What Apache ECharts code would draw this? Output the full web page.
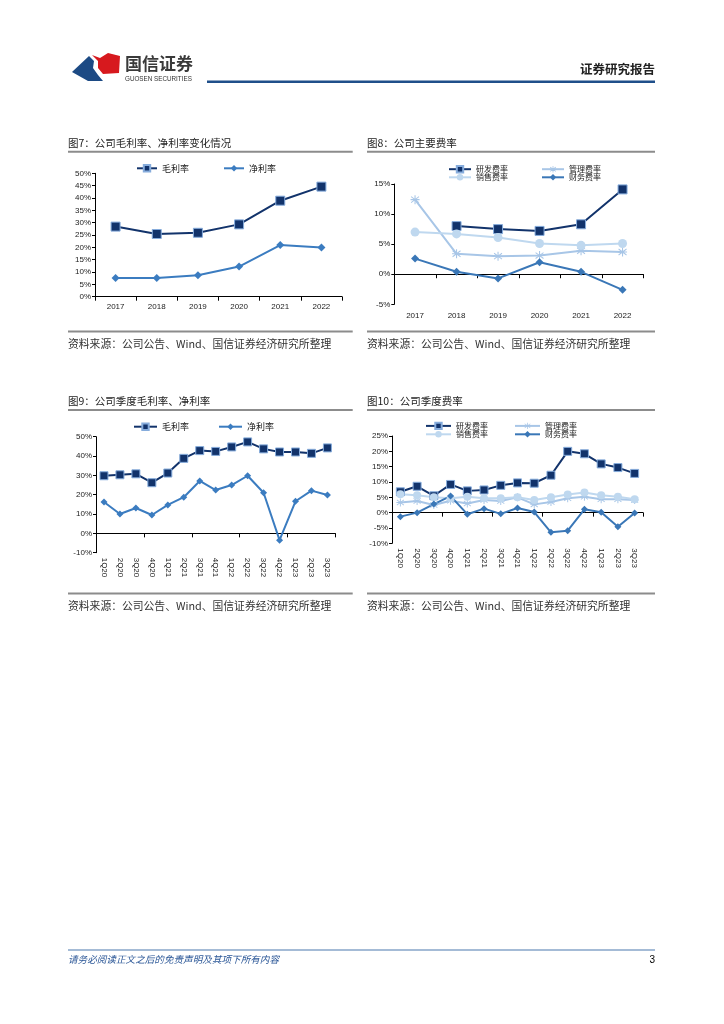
<!DOCTYPE html>
<html><head><meta charset="utf-8">
<script src="https://cdn.jsdelivr.net/npm/echarts@6/dist/echarts.min.js"></script>
<style>html,body{margin:0;padding:0;background:#fff}#c{width:724px;height:1024px}</style>
</head><body><div id="c"></div>
<script>
// ---------- data ----------
const years = ['2017','2018','2019','2020','2021','2022'];
const grossMargin = [28.4,25.4,25.9,29.3,38.9,44.6];
const netMargin   = [7.6,7.6,8.7,12.2,20.9,19.9];

const rdRate    = [null,8.0,7.5,7.2,8.3,14.1];
const adminRate = [12.4,3.4,3.0,3.1,3.9,3.7];
const salesRate = [7.0,6.7,6.1,5.1,4.8,5.1];
const finRate   = [2.6,0.4,-0.7,2.0,0.4,-2.6];

const quarters = ['1Q20','2Q20','3Q20','4Q20','1Q21','2Q21','3Q21','4Q21','1Q22','2Q22','3Q22','4Q22','1Q23','2Q23','3Q23'];
const qGross = [29.8,30.3,30.8,26.2,31.2,38.8,42.8,42.4,44.7,47.3,43.7,42.1,42.1,41.4,44.2];
const qNet   = [16.2,10.0,13.1,9.5,14.7,18.7,27.1,22.4,25.0,29.8,21.0,-3.5,16.6,22.1,19.8];

const qRd    = [6.8,8.6,5.5,9.2,7.1,7.4,8.9,9.7,9.6,12.2,20.0,19.2,15.9,14.7,12.8];
const qAdmin = [3.3,3.8,2.5,3.9,3.0,4.1,3.8,5.0,2.7,3.5,4.7,5.2,4.4,4.4,4.1];
const qSales = [6.0,5.7,5.0,4.7,5.2,4.7,4.7,5.0,4.1,5.0,5.9,6.6,5.7,5.2,4.4];
const qFin   = [-1.3,0.0,2.8,5.4,-0.5,1.3,-0.4,1.5,0.2,-6.4,-5.9,1.1,0.1,-4.6,-0.1];

const yTicks1 = {min:0, max:50, interval:5};
const yTicks2 = {min:-5, max:15, interval:5};
const yTicks3 = {min:-10, max:50, interval:10};
const yTicks4 = {min:-10, max:25, interval:5};

// ---------- styles ----------
const CJK = '"Noto Sans CJK SC", sans-serif';
const LAT = '"Liberation Sans", Arial, sans-serif';
const NAVY = '#12336b', MID = '#3b7cc0', LIGHT1 = '#a8c6e7', LIGHT2 = '#bfd8ef', FIN = '#3a77b7';
const STAR = 'path://M4.4,0H5.6V10H4.4Z M0.3,2.2L0.9,1.2L9.7,7.8L9.1,8.8Z M0.3,7.8L9.1,1.2L9.7,2.2L0.9,8.8Z M0,4.4H10V5.6H0Z';

const chart = echarts.init(document.getElementById('c'), null, {renderer:'canvas'});

function yAxis(grid, t){
  return {type:'value', gridIndex:grid, min:t.min, max:t.max, interval:t.interval,
    axisLine:{show:true, onZero:false, lineStyle:{color:'#000', width:1}},
    axisTick:{show:true, length:3, lineStyle:{color:'#000'}},
    splitLine:{show:false},
    axisLabel:{formatter:'{value}%', fontSize:8, fontFamily:LAT, color:'#222', margin:4}};
}
function labelX(grid, cats, rotate, margin){
  return {type:'category', gridIndex:grid, data:cats, position:'bottom', boundaryGap:true,
    axisLine:{show:false, onZero:false}, axisTick:{show:false},
    axisLabel:{fontSize:8, fontFamily:LAT, color:'#222', rotate:rotate, margin:margin, interval:0}};
}
function zeroX(grid, cats){
  return {type:'category', gridIndex:grid, data:cats, position:'top', boundaryGap:true,
    axisLine:{show:true, onZero:true, lineStyle:{color:'#000', width:1}},
    axisTick:{show:true, inside:true, length:4, lineStyle:{color:'#000'}},
    axisLabel:{show:false}};
}
function line(name, data, xi, yi, color, symbol, size, extra){
  return Object.assign({type:'line', name:name, data:data, xAxisIndex:xi, yAxisIndex:yi,
    symbol:symbol, symbolSize:size, showSymbol:true, connectNulls:false,
    lineStyle:{color:color, width:2}, itemStyle:{color:color}, animation:false, z:3}, extra||{});
}
function legend(names, left, top, iw, gap, fs){
  return {data:names, left:left, top:top, orient:'horizontal', padding:0, itemWidth:iw, itemHeight:8,
    itemGap:gap, selectedMode:false, textStyle:{fontSize:fs, fontFamily:CJK, color:'#222', padding:[0,0,0,0]}};
}
function txt(x, y, s, size, opt){
  return Object.assign({type:'text', x:x, y:y, silent:true,
    style:Object.assign({text:s, fontSize:size, fontFamily:CJK, fill:'#222', verticalAlign:'middle', textVerticalAlign:'middle', textAlign:'left'}, (opt&&opt.style)||{})}, {});
}
function rule(x, y, w, h, color){
  return {type:'rect', silent:true, shape:{x:x, y:y, width:w, height:h}, style:{fill:color}};
}
const srcText = '资料来源：公司公告、Wind、国信证券经济研究所整理';

const option = {
  animation:false,
  backgroundColor:'#fff',
  grid:[
    {left:95, top:173.3, width:247, height:123.4},
    {left:394.3, top:184, width:249, height:120.3},
    {left:96, top:436.7, width:239.4, height:116},
    {left:392, top:436, width:251, height:107.3}
  ],
  xAxis:[
    {type:'category', gridIndex:0, data:years, boundaryGap:true,
      axisLine:{show:true, lineStyle:{color:'#000', width:1}},
      axisTick:{show:true, length:4, lineStyle:{color:'#000'}},
      axisLabel:{fontSize:8, fontFamily:LAT, color:'#222', margin:6}},
    labelX(1, years, 0, 7),
    zeroX(1, years),
    labelX(2, quarters, -90, 5),
    zeroX(2, quarters),
    labelX(3, quarters, -90, 5),
    zeroX(3, quarters)
  ],
  yAxis:[yAxis(0, yTicks1), yAxis(1, yTicks2), yAxis(2, yTicks3), yAxis(3, yTicks4)],
  legend:[
    legend(['毛利率','净利率'], 136, 163.8, 20, 34, 9),
    legend(['研发费率','管理费率'], 448, 165, 22, 33, 8),
    legend(['销售费率','财务费率'], 448, 173.3, 22, 33, 8),
    legend(['毛利率','净利率'], 133, 422.2, 23, 29, 9),
    legend(['研发费率','管理费率'], 425, 421.7, 25, 26, 8),
    legend(['销售费率','财务费率'], 425, 430.3, 25, 26, 8)
  ],
  series:[
    line('毛利率', grossMargin, 0, 0, NAVY, 'rect', 9, {itemStyle:{color:NAVY, borderColor:'#86acdc', borderWidth:1}}),
    line('净利率', netMargin, 0, 0, MID, 'diamond', 8),
    line('研发费率', rdRate, 1, 1, NAVY, 'rect', 9, {itemStyle:{color:NAVY, borderColor:'#86acdc', borderWidth:1}}),
    line('管理费率', adminRate, 1, 1, LIGHT1, STAR, 9),
    line('销售费率', salesRate, 1, 1, LIGHT2, 'circle', 9),
    line('财务费率', finRate, 1, 1, FIN, 'diamond', 8),
    line('毛利率', qGross, 3, 2, NAVY, 'rect', 8, {itemStyle:{color:NAVY, borderColor:'#86acdc', borderWidth:1}}),
    line('净利率', qNet, 3, 2, MID, 'diamond', 7),
    line('研发费率', qRd, 5, 3, NAVY, 'rect', 8, {itemStyle:{color:NAVY, borderColor:'#86acdc', borderWidth:1}}),
    line('管理费率', qAdmin, 5, 3, LIGHT1, STAR, 8),
    line('销售费率', qSales, 5, 3, LIGHT2, 'circle', 8),
    line('财务费率', qFin, 5, 3, FIN, 'diamond', 7)
  ],
  graphic:[
    // logo
    {type:'polygon', silent:true, shape:{points:[[72,72],[89,56],[94,61],[93,68],[98,75],[103,81],[88,81]]}, style:{fill:'#1c4a84'}},
    {type:'polygon', silent:true, shape:{points:[[92,55],[100,58],[108,53],[120,56],[119,73],[103,74],[98,68],[98,61]]}, style:{fill:'#d7191e'}},
    txt(125, 64, '国信证券', 17, {style:{fill:'#3a3a3a', fontWeight:'bold'}}),
    txt(125, 79, 'GUOSEN SECURITIES', 6.3, {style:{fill:'#333', fontFamily:LAT}}),
    rule(207, 80.5, 448, 2.5, '#1f4f8a'),
    txt(655, 69, '证券研究报告', 12.5, {style:{textAlign:'right', fontWeight:'bold', fill:'#222'}}),
    // titles
    txt(68, 142.7, '图7：公司毛利率、净利率变化情况', 10.5),
    txt(367, 142.7, '图8：公司主要费率', 10.5),
    rule(68, 150.7, 284.7, 2, '#8c8c8c'),
    rule(367, 150.7, 288, 2, '#8c8c8c'),
    rule(68, 330.5, 284.7, 2, '#8c8c8c'),
    rule(367, 330.5, 288, 2, '#8c8c8c'),
    txt(68, 343.5, srcText, 10.8, {style:{fill:'#333'}}),
    txt(367, 343.5, srcText, 10.8, {style:{fill:'#333'}}),
    txt(68, 400.7, '图9：公司季度毛利率、净利率', 10.5),
    txt(367, 400.7, '图10：公司季度费率', 10.5),
    rule(68, 409, 284.7, 2, '#8c8c8c'),
    rule(367, 409, 288, 2, '#8c8c8c'),
    rule(68, 592.5, 284.7, 2, '#8c8c8c'),
    rule(367, 592.5, 288, 2, '#8c8c8c'),
    txt(68, 605.5, srcText, 10.8, {style:{fill:'#333'}}),
    txt(367, 605.5, srcText, 10.8, {style:{fill:'#333'}}),
    // footer
    rule(68, 949.5, 587, 1, '#4a78ad'),
    txt(68, 959, '请务必阅读正文之后的免责声明及其项下所有内容', 9.6, {style:{fill:'#2b5797', fontStyle:'italic'}}),
    txt(655, 960, '3', 10, {style:{textAlign:'right', fill:'#000', fontFamily:LAT}})
  ]
};
chart.setOption(option);
</script></body></html>
